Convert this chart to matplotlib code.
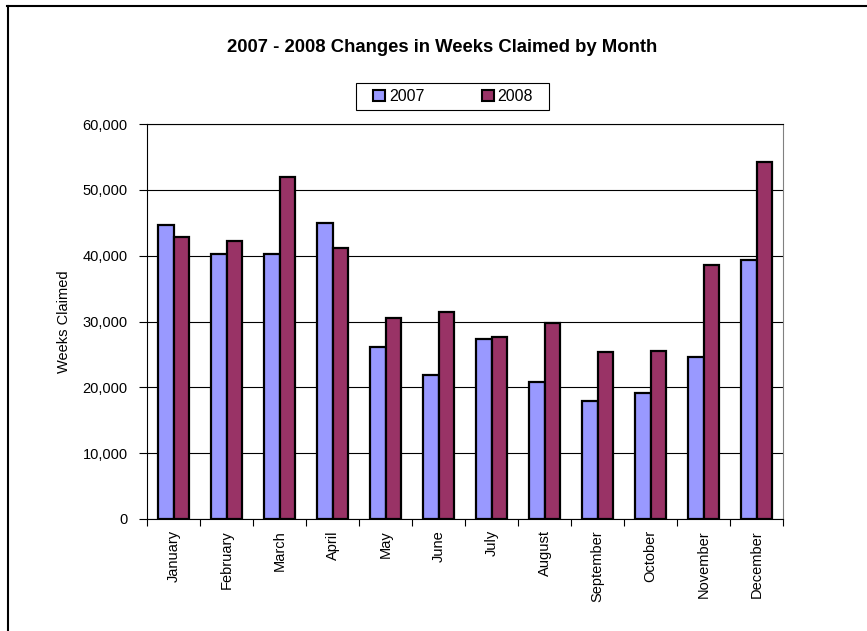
import matplotlib
matplotlib.use("Agg")
import matplotlib.pyplot as plt
import numpy as np
from matplotlib.lines import Line2D
from matplotlib.patches import Patch, Rectangle

months = ["January", "February", "March", "April", "May", "June", "July",
          "August", "September", "October", "November", "December"]
weeks_2007 = [44600, 40300, 40300, 44900, 26200, 21800, 27300, 20800, 18000, 19200, 24600, 39400]
weeks_2008 = [42900, 42300, 51900, 41200, 30500, 31400, 27700, 29700, 25300, 25500, 38600, 54300]
series_names = ["2007", "2008"]
yticks = [0, 10000, 20000, 30000, 40000, 50000, 60000]

plt.rcParams['font.family'] = ['Liberation Sans', 'DejaVu Sans']

W, H = 867, 631
fig = plt.figure(figsize=(W / 100, H / 100), dpi=100)
ax = fig.add_axes([147 / W, 1 - 519 / H, (783 - 147) / W, (519 - 124) / H])

x = np.arange(len(months))
bw = 0.29
c07 = "#9999FF"
c08 = "#993366"
ax.bar(x - bw / 2, weeks_2007, bw, color=c07, edgecolor="black", linewidth=1.6, zorder=3)
ax.bar(x + bw / 2, weeks_2008, bw, color=c08, edgecolor="black", linewidth=1.6, zorder=3)

ax.set_xlim(-0.5, len(months) - 0.5)
ax.set_ylim(0, 60000)
ax.set_yticks(yticks)
ax.set_yticklabels([f"{v:,}" for v in yticks], fontsize=10.5)
ax.yaxis.grid(True, color="black", linewidth=0.8, zorder=0)
ax.tick_params(axis="y", direction="out", length=6, width=0.8, pad=8)

ax.set_xticks(np.arange(-0.5, len(months), 1.0))
ax.set_xticklabels([])
ax.tick_params(axis="x", which="major", direction="out", length=5, width=0.8)
ax.set_xticks(x, minor=True)
ax.set_xticklabels(months, minor=True, rotation=90, fontsize=10.5)
ax.tick_params(axis="x", which="minor", length=0, pad=8)

for s in ["left", "bottom", "top"]:
    ax.spines[s].set_color("black")
    ax.spines[s].set_linewidth(0.8)
ax.spines["right"].set_color("#808080")
ax.spines["right"].set_linewidth(0.8)

ax.set_ylabel("Weeks Claimed", fontsize=10.5)
ax.yaxis.set_label_coords(71 / W, 1 - 321.5 / H, transform=fig.transFigure)

fig.text(442 / W, 1 - 47 / H, "2007 - 2008 Changes in Weeks Claimed by Month",
         ha="center", va="center", fontsize=13.3, fontweight="bold")

# legend box
fig.add_artist(Rectangle((356 / W, 1 - 110 / H), (549 - 356) / W, 27 / H,
                         transform=fig.transFigure, facecolor="white", edgecolor="black",
                         linewidth=0.8))
handles = [Patch(facecolor=c07, edgecolor="black", linewidth=1.5),
           Patch(facecolor=c08, edgecolor="black", linewidth=1.5)]
leg = fig.legend(handles, series_names, loc="center", bbox_to_anchor=(453 / W, 1 - 96.5 / H),
                 ncol=2, fontsize=11.5, frameon=False,
                 handlelength=0.75, handleheight=0.75, handletextpad=0.25, columnspacing=3.6,
                 borderpad=0.3)

fig.add_artist(Line2D([7 / W, 1], [1 - 6 / H, 1 - 6 / H], color="black", linewidth=1.5,
                      transform=fig.transFigure))
fig.add_artist(Line2D([8 / W, 8 / W], [0, 1 - 6 / H], color="black", linewidth=1.5,
                      transform=fig.transFigure))

fig.savefig("out.png", dpi=100)
